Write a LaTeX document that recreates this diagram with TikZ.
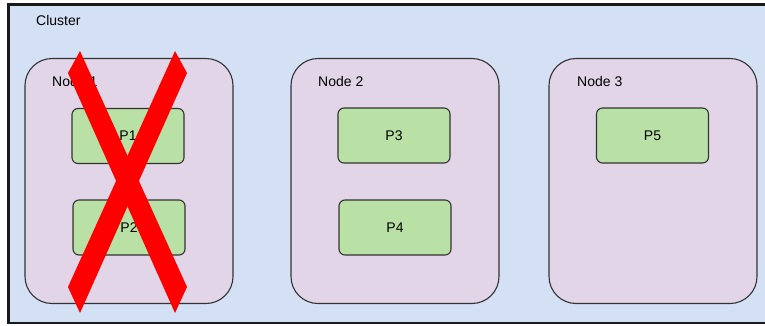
\documentclass[tikz,border=0pt]{standalone}
\usepackage{fontspec}
\setmainfont{Liberation Sans}
\definecolor{clusterfill}{HTML}{D4E1F5}
\definecolor{hostfill}{HTML}{E1D5E7}
\definecolor{partfill}{HTML}{B9E0A5}
\definecolor{edgegray}{HTML}{333333}
\definecolor{crossred}{HTML}{FF0000}
\tikzset{
  host/.style={draw=edgegray, fill=hostfill, line width=1.1pt, rounded corners=27pt,
    minimum width=208pt, minimum height=245pt, inner sep=0pt},
  part/.style={draw=edgegray, fill=partfill, line width=1.1pt, rounded corners=6pt,
    minimum width=112pt, minimum height=55pt, inner sep=0pt,
    font=\fontsize{14}{16}\selectfont},
  caption/.style={anchor=base west, inner sep=0pt, font=\fontsize{14}{16}\selectfont},
}
\begin{document}
\begin{tikzpicture}[x=1pt, y=-1pt]
  \useasboundingbox (0,0) rectangle (765,325);
  \fill[white] (0,0) rectangle (765,325);
  \clip (0,0) rectangle (765,325);

  % cluster frame, open to the right edge
  \draw[fill=clusterfill, draw=black!90, line width=2.2pt] (8.5,4.5) rectangle (780,323);
  \node[caption] (clusterlabel) at (36,25) {Cluster};

  % hosts
  \node[host] (n1) at (129,181) {};
  \node[host] (n2) at (395,181) {};
  \node[host] (n3) at (653,181) {};
  \node[caption] (n1label) at (52,86.5) {Node 1};
  \node[caption] (n2label) at (318,86.5) {Node 2};
  \node[caption] (n3label) at (577,86.5) {Node 3};

  % partitions
  \node[part] (p1) at (128,136) {P1};
  \node[part] (p2) at (129,227.5) {P2};
  \node[part] (p3) at (394,135.5) {P3};
  \node[part] (p4) at (395,227.5) {P4};
  \node[part] (p5) at (652.5,135.5) {P5};

  % red cross over Node 1
  \fill[crossred] (80,51) -- (187,287) -- (175,313) -- (68,73) -- cycle;
  \fill[crossred] (175,51) -- (187,73) -- (80,313) -- (68,287) -- cycle;
\end{tikzpicture}
\end{document}
